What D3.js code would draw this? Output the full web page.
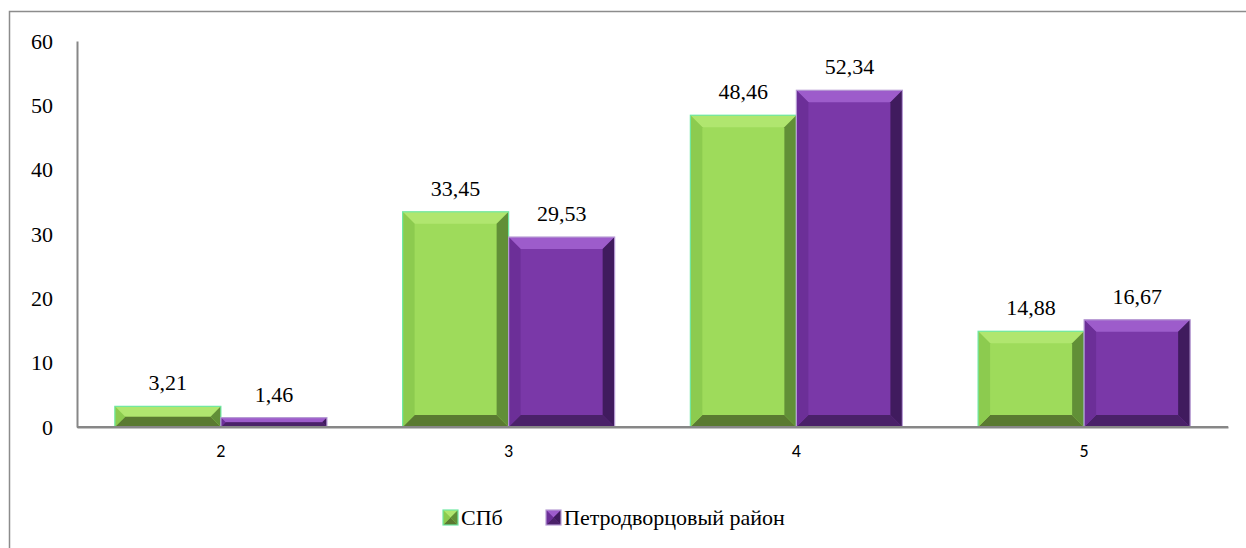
<!DOCTYPE html>
<html><head><meta charset="utf-8">
<script src="https://cdn.jsdelivr.net/npm/d3@7"></script>
<style>
body{margin:0;background:#fff}svg{display:block}
text.serif{font-family:"Liberation Serif";}
text.cat{font-family:Carlito;}
</style>
</head><body>
<svg id="c" width="1246" height="548"></svg>
<script>
const categories = ["2","3","4","5"];
const seriesNames = ["СПб","Петродворцовый район"];
const spbValues = [3.21,33.45,48.46,14.88];
const petroValues = [1.46,29.53,52.34,16.67];
const yTickValues = [0,10,20,30,40,50,60];

const palettes = [
  {main:"#9edb5b", top:"#b0e66f", left:"#8ccb4f", right:"#618f37", bottom:"#5a7a31", outline:"#6fe8a3"},
  {main:"#7a38a8", top:"#9d5ccb", left:"#6c2f98", right:"#401b5e", bottom:"#4a2169", outline:"#b79cd4"}
];
const SERIF = "Liberation Serif";
const SANS = "Carlito";

const svg = d3.select("#c");
const m = {left:77, right:1228, top:41, bottom:427};

svg.append("path").attr("d","M9.5,560 V11.5 H1260").attr("fill","none").attr("stroke","#8c8c8c").attr("stroke-width",1.5);

const x0 = d3.scaleBand().domain(categories).range([m.left,m.right]).padding(0);
const x1 = d3.scaleBand().domain(seriesNames).range([0,x0.bandwidth()]).paddingInner(0).paddingOuter(0.357);
const y = d3.scaleLinear().domain([0,60]).range([m.bottom,m.top]);

const yAxis = d3.axisLeft(y).tickValues(yTickValues).tickSize(0).tickPadding(24).tickFormat(d3.format("d"));
const gy = svg.append("g").attr("transform",`translate(${m.left},0)`).call(yAxis);
gy.attr("font-family",SERIF).attr("font-size",22);
gy.select(".domain").attr("stroke","#878787").attr("stroke-width",2);
gy.selectAll("text").attr("class","serif").attr("font-family",SERIF).attr("font-size",22).attr("fill","#000");

const xAxis = d3.axisBottom(x0).tickSize(0).tickPadding(17);
const gx = svg.append("g").attr("transform",`translate(0,${m.bottom})`).call(xAxis);
gx.attr("font-family",SANS).attr("font-size",18);
gx.select(".domain").attr("stroke","#878787").attr("stroke-width",2);
gx.selectAll("text").attr("class","cat").attr("font-family",SANS).attr("font-size",18).attr("fill","#000");

function bevelBar(g, x, yy, w, h, pal, maxB){
  const b = Math.min(maxB, h/2, w/2);
  g.append("rect").attr("x",x).attr("y",yy).attr("width",w).attr("height",h).attr("fill",pal.main);
  const P = (pts,fill)=>g.append("polygon").attr("points",pts.map(p=>p.join(",")).join(" ")).attr("fill",fill);
  P([[x,yy],[x+w,yy],[x+w-b,yy+b],[x+b,yy+b]], pal.top);
  P([[x,yy+h],[x+w,yy+h],[x+w-b,yy+h-b],[x+b,yy+h-b]], pal.bottom);
  P([[x,yy],[x+b,yy+b],[x+b,yy+h-b],[x,yy+h]], pal.left);
  P([[x+w,yy],[x+w-b,yy+b],[x+w-b,yy+h-b],[x+w,yy+h]], pal.right);
  g.append("rect").attr("x",x).attr("y",yy).attr("width",w).attr("height",h).attr("fill","none").attr("stroke",pal.outline).attr("stroke-width",1.2);
}

const seriesData = [spbValues, petroValues];
const fmt = v => d3.format(".2f")(v).replace(".",",");
const bars = svg.append("g");
const labels = svg.append("g").attr("font-family",SERIF).attr("font-size",22);
seriesData.forEach((vals,si)=>{
  categories.forEach((c,ci)=>{
    const v = vals[ci];
    const bx = x0(c)+x1(seriesNames[si]);
    const bw = x1.bandwidth();
    const by = y(v);
    const bh = y(0)-y(v);
    bevelBar(bars.append("g"), bx, by, bw, bh, palettes[si], 12);
    labels.append("text").attr("class","serif").attr("x",bx+bw/2).attr("y",by-16).attr("text-anchor","middle")
      .attr("font-family",SERIF).attr("font-size",22).attr("fill","#000")
      .text(fmt(v));
  });
});
svg.append("line").attr("x1",m.left).attr("x2",m.right).attr("y1",m.bottom).attr("y2",m.bottom).attr("stroke","#878787").attr("stroke-width",2);

const legend = svg.append("g").attr("font-family",SERIF).attr("font-size",22);
const legendItems = [{x:443,name:seriesNames[0]},{x:546,name:seriesNames[1]}];
legendItems.forEach((it,i)=>{
  bevelBar(legend.append("g"), it.x, 510, 15, 15, palettes[i], 7.5);
  legend.append("text").attr("class","serif").attr("x",it.x+18).attr("y",525)
    .attr("font-family",SERIF).attr("font-size",22).attr("fill","#000")
    .text(it.name);
});
</script>
</body></html>
